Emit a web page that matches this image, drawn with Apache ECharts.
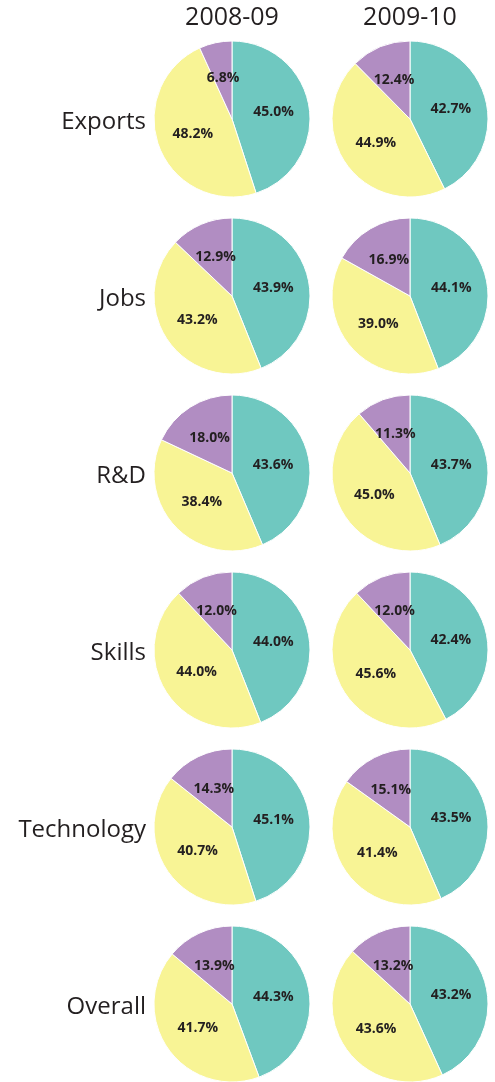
<!DOCTYPE html>
<html><head><meta charset="utf-8">
<script src="https://cdn.jsdelivr.net/npm/echarts@6/dist/echarts.min.js"></script>
<style>html,body{margin:0;padding:0;background:#fff}#c{width:495px;height:1082px}</style>
</head><body><div id="c"></div>
<script>
const periods = ['2008-09', '2009-10'];
const categories = ['Exports', 'Jobs', 'R&D', 'Skills', 'Technology', 'Overall'];
const sliceNames = ['A', 'B', 'C'];
const colors = ['#6fc8c0', '#f8f495', '#b18dc2'];
// values per category: [period 2008-09 [teal, yellow, purple], period 2009-10 [...]]
const exportsVals = [[45.0, 48.2, 6.8], [42.7, 44.9, 12.4]];
const jobsVals = [[43.9, 43.2, 12.9], [44.1, 39.0, 16.9]];
const rdVals = [[43.6, 38.4, 18.0], [43.7, 45.0, 11.3]];
const skillsVals = [[44.0, 44.0, 12.0], [42.4, 45.6, 12.0]];
const technologyVals = [[45.1, 40.7, 14.3], [43.5, 41.4, 15.1]];
const overallVals = [[44.3, 41.7, 13.9], [43.2, 43.6, 13.2]];
const allVals = [exportsVals, jobsVals, rdVals, skillsVals, technologyVals, overallVals];

const colX = [232, 410];
const rowY0 = 119, rowStep = 177;
const R = 78;
const labelFrac = [0.58, 0.56, 0.73];
const FONT = '"Open Sans", "Noto Sans", sans-serif';

const chart = echarts.init(document.getElementById('c'), null, {renderer: 'canvas'});
const series = [];
const centers = [];
allVals.forEach((catVals, r) => {
  catVals.forEach((vals, c) => {
    const cx = colX[c], cy = rowY0 + r * rowStep;
    centers.push([cx, cy]);
    series.push({
      type: 'pie',
      center: [cx, cy],
      radius: [0, R],
      startAngle: 90,
      clockwise: true,
      silent: true,
      animation: false,
      itemStyle: {borderColor: '#ffffff', borderWidth: 1},
      label: {
        show: true, position: 'inside',
        formatter: p => p.value.toFixed(1) + '%',
        fontFamily: FONT, fontWeight: 'bold', fontSize: 14, color: '#231f20'
      },
      labelLine: {show: false},
      data: vals.map((v, i) => ({name: sliceNames[i], value: v, itemStyle: {color: colors[i]}}))
    });
  });
});

const graphics = [];
periods.forEach((p, c) => {
  graphics.push({type: 'text', x: colX[c], y: 18, style: {text: p, fill: '#231f20', font: '25px ' + FONT, textAlign: 'center', textVerticalAlign: 'middle'}});
});
categories.forEach((name, r) => {
  graphics.push({type: 'text', x: 146, y: rowY0 + r * rowStep + 3, style: {text: name, fill: '#231f20', font: '24px ' + FONT, textAlign: 'right', textVerticalAlign: 'middle'}});
});

chart.setOption({
  backgroundColor: '#ffffff',
  animation: false,
  series: series,
  graphic: graphics,
  labelLayout: function (params) {
    const ctr = centers[params.seriesIndex];
    const lr = params.labelRect;
    const lx = lr.x + lr.width / 2, ly = lr.y + lr.height / 2;
    const vx = lx - ctr[0], vy = ly - ctr[1];
    const d = Math.sqrt(vx * vx + vy * vy) || 1;
    const target = R * labelFrac[params.dataIndex];
    return {dx: vx / d * target - vx, dy: vy / d * target - vy};
  }
});
</script></body></html>
